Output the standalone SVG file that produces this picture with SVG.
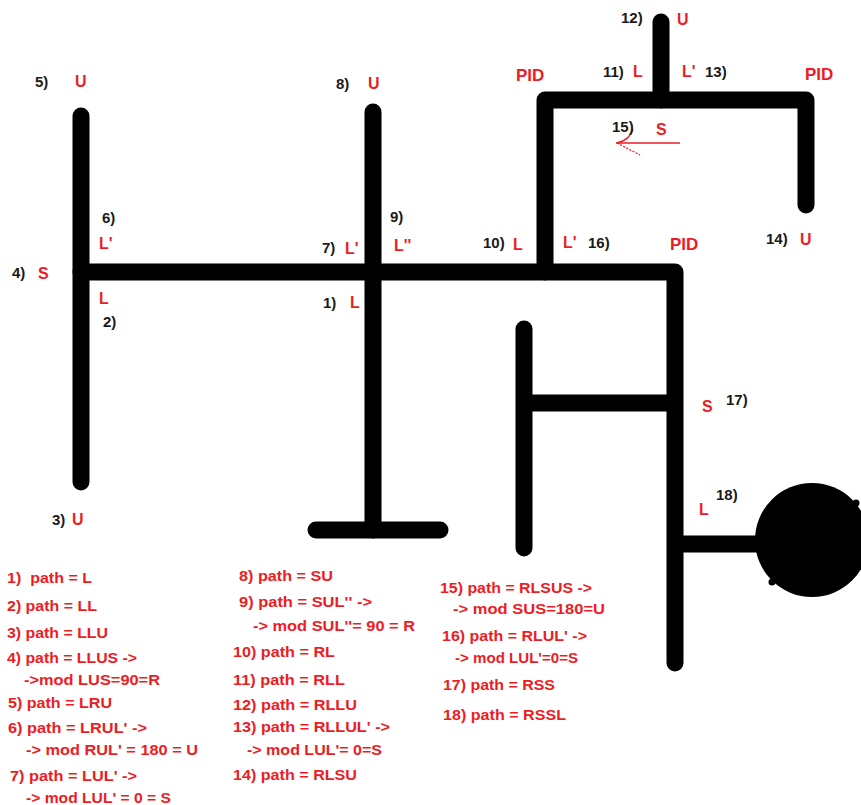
<svg xmlns="http://www.w3.org/2000/svg" width="861" height="805" viewBox="0 0 861 805">
<style>
.trk{fill:none;stroke:#000;stroke-width:17;stroke-linecap:round;stroke-linejoin:round}
.bt{fill:none;stroke:#000;stroke-width:17;stroke-linecap:butt}
.n{font-family:"Liberation Sans",Arial,sans-serif;font-weight:bold;font-size:15px;fill:#1a1a1a}
.r{font-family:"Liberation Sans",Arial,sans-serif;font-weight:bold;font-size:16px;fill:#ed1c24}
.pid{font-family:"Liberation Sans",Arial,sans-serif;font-weight:bold;font-size:17px;fill:#ed1c24}
.t{font-family:"Liberation Sans",Arial,sans-serif;font-weight:bold;font-size:15px;fill:#ed1c24}
</style>
<rect width="861" height="805" fill="#fff"/>
<g id="connectors">
  <path class="trk" d="M81 116 V482"/>
  <path class="trk" d="M81 272 H675 V663"/>
  <path class="trk" d="M373 112 V530"/>
  <path class="trk" d="M316 530 H440"/>
  <path class="trk" d="M545 272 V100 H806 V205"/>
  <path class="trk" d="M661 22 V100"/>
  <path class="trk" d="M524 329 V548"/>
  <path class="bt" d="M524 403 H675"/>
  <path class="bt" d="M675 544 H800"/>
  <path d="M616 143 H680" stroke="#ed1c24" stroke-width="1.5" fill="none"/>
  <path d="M633 129 Q630 140 617 143" stroke="#ed1c24" stroke-width="1.3" fill="none"/>
  <path d="M617 143 L640 155" stroke="#ed1c24" stroke-width="1.3" stroke-dasharray="2 1.5" fill="none"/>
</g>
<g id="robot">
  <circle cx="812" cy="540" r="57" fill="#000"/>
  <circle cx="856" cy="503" r="3.5" fill="#000"/>
  <circle cx="772" cy="582" r="3.5" fill="#000"/>
</g>
<g id="labels-left">
  <text class="n" x="35" y="87">5)</text><text class="r" x="75" y="87">U</text>
  <text class="n" x="102" y="223">6)</text><text class="r" x="99" y="249">L'</text>
  <text class="n" x="12" y="278">4)</text><text class="r" x="38" y="279">S</text>
  <text class="r" x="99" y="304">L</text><text class="n" x="103" y="327">2)</text>
  <text class="n" x="52" y="525">3)</text><text class="r" x="72" y="525">U</text>
</g>
<g id="labels-middle">
  <text class="n" x="336" y="89">8)</text><text class="r" x="368" y="89">U</text>
  <text class="n" x="390" y="222">9)</text><text class="r" x="394" y="251">L''</text>
  <text class="n" x="322" y="253">7)</text><text class="r" x="345" y="254">L'</text>
  <text class="n" x="323" y="308">1)</text><text class="r" x="350" y="308">L</text>
  <text class="n" x="483" y="248">10)</text><text class="r" x="513" y="250">L</text>
  <text class="r" x="563" y="248">L'</text><text class="n" x="588" y="248">16)</text>
  <text class="pid" x="670" y="250">PID</text>
</g>
<g id="labels-top">
  <text class="n" x="621" y="23">12)</text><text class="r" x="677" y="25">U</text>
  <text class="n" x="603" y="77">11)</text><text class="r" x="633" y="77">L</text>
  <text class="r" x="682" y="77">L'</text><text class="n" x="705" y="77">13)</text>
  <text class="pid" x="516" y="81">PID</text>
  <text class="pid" x="805" y="80">PID</text>
  <text class="n" x="612" y="132">15)</text><text class="r" x="656" y="135">S</text>
  <text class="n" x="766" y="244">14)</text><text class="r" x="800" y="245">U</text>
</g>
<g id="labels-right">
  <text class="r" x="702" y="412">S</text><text class="n" x="726" y="405">17)</text>
  <text class="r" x="699" y="515">L</text><text class="n" x="716" y="500">18)</text>
</g>
<g id="notes">
  <text class="t" x="7" y="583" textLength="85" lengthAdjust="spacingAndGlyphs">1)&#160; path = L</text>
  <text class="t" x="7" y="611" textLength="90" lengthAdjust="spacingAndGlyphs">2) path = LL</text>
  <text class="t" x="7" y="638" textLength="101" lengthAdjust="spacingAndGlyphs">3) path = LLU</text>
  <text class="t" x="7" y="663" textLength="130" lengthAdjust="spacingAndGlyphs">4) path = LLUS -&gt;</text>
  <text class="t" x="24" y="685" textLength="136" lengthAdjust="spacingAndGlyphs">-&gt;mod LUS=90=R</text>
  <text class="t" x="8" y="708" textLength="104" lengthAdjust="spacingAndGlyphs">5) path = LRU</text>
  <text class="t" x="8" y="733" textLength="139" lengthAdjust="spacingAndGlyphs">6) path = LRUL' -&gt;</text>
  <text class="t" x="26" y="755" textLength="172" lengthAdjust="spacingAndGlyphs">-&gt; mod RUL' = 180 = U</text>
  <text class="t" x="10" y="781" textLength="127" lengthAdjust="spacingAndGlyphs">7) path = LUL' -&gt;</text>
  <text class="t" x="26" y="803" textLength="145" lengthAdjust="spacingAndGlyphs">-&gt; mod LUL' = 0 = S</text>

  <text class="t" x="239" y="581" textLength="94" lengthAdjust="spacingAndGlyphs">8) path = SU</text>
  <text class="t" x="239" y="607" textLength="133" lengthAdjust="spacingAndGlyphs">9) path = SUL'' -&gt;</text>
  <text class="t" x="253" y="631" textLength="162" lengthAdjust="spacingAndGlyphs">-&gt; mod SUL''= 90 = R</text>
  <text class="t" x="233" y="657" textLength="102" lengthAdjust="spacingAndGlyphs">10) path = RL</text>
  <text class="t" x="233" y="685" textLength="112" lengthAdjust="spacingAndGlyphs">11) path = RLL</text>
  <text class="t" x="233" y="710" textLength="124" lengthAdjust="spacingAndGlyphs">12) path = RLLU</text>
  <text class="t" x="233" y="732" textLength="157" lengthAdjust="spacingAndGlyphs">13) path = RLLUL' -&gt;</text>
  <text class="t" x="247" y="755" textLength="135" lengthAdjust="spacingAndGlyphs">-&gt; mod LUL'= 0=S</text>
  <text class="t" x="233" y="780" textLength="124" lengthAdjust="spacingAndGlyphs">14) path = RLSU</text>

  <text class="t" x="440" y="593" textLength="152" lengthAdjust="spacingAndGlyphs">15) path = RLSUS -&gt;</text>
  <text class="t" x="453" y="614" textLength="152" lengthAdjust="spacingAndGlyphs">-&gt; mod SUS=180=U</text>
  <text class="t" x="442" y="641" textLength="145" lengthAdjust="spacingAndGlyphs">16) path = RLUL' -&gt;</text>
  <text class="t" x="455" y="663" textLength="123" lengthAdjust="spacingAndGlyphs">-&gt; mod LUL'=0=S</text>
  <text class="t" x="443" y="690" textLength="112" lengthAdjust="spacingAndGlyphs">17) path = RSS</text>
  <text class="t" x="443" y="720" textLength="123" lengthAdjust="spacingAndGlyphs">18) path = RSSL</text>
</g>
</svg>
